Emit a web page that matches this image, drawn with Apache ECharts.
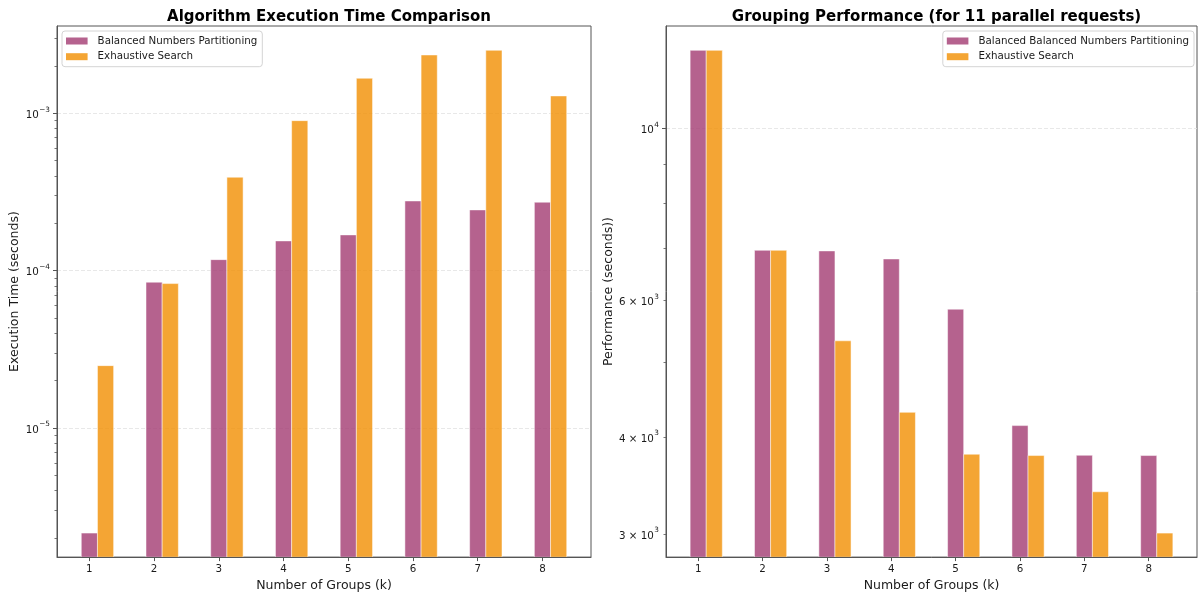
<!DOCTYPE html>
<html>
<head>
<meta charset="utf-8">
<script src="https://cdn.jsdelivr.net/npm/echarts@6/dist/echarts.min.js"></script>
<style>
  html, body { margin: 0; padding: 0; background: #ffffff; }
  #chart { width: 1200px; height: 597px; }
</style>
</head>
<body>
<div id="chart"></div>
<script>
// Number of groups k on both panels
const GROUPS = [1, 2, 3, 4, 5, 6, 7, 8];

// Left panel: execution time in seconds
const TIME_BNP = [2.15e-6, 8.44e-5, 1.174e-4, 1.544e-4, 1.686e-4, 2.77e-4, 2.43e-4, 2.72e-4];
const TIME_EXHAUSTIVE = [2.49e-5, 8.27e-5, 3.92e-4, 8.97e-4, 1.668e-3, 2.345e-3, 2.51e-3, 1.288e-3];

// Right panel: performance for 11 parallel requests
const PERF_BNP = [12600, 6961, 6949, 6785, 5845, 4138, 3789, 3786];
const PERF_EXHAUSTIVE = [12600, 6961, 5322, 4304, 3801, 3786, 3400, 3008];

// Tick values and labels of the log axes (mantissa, exponent)
const TIME_TICKS = [1e-5, 1e-4, 1e-3];
const TIME_TICK_LABELS = [['', '\u22125'], ['', '\u22124'], ['', '\u22123']];
const TIME_MINOR_TICKS = [2e-6, 3e-6, 4e-6, 5e-6, 6e-6, 7e-6, 8e-6, 9e-6,
  2e-5, 3e-5, 4e-5, 5e-5, 6e-5, 7e-5, 8e-5, 9e-5,
  2e-4, 3e-4, 4e-4, 5e-4, 6e-4, 7e-4, 8e-4, 9e-4,
  2e-3, 3e-3];
const PERF_MAJOR_TICKS = [10000];
const PERF_TICK_VALUES = [3000, 4000, 6000, 10000];
const PERF_TICK_LABELS = [['3', '3'], ['4', '3'], ['6', '3'], ['', '4']];
const PERF_MINOR_TICKS = [3000, 4000, 5000, 6000, 7000, 8000, 9000];

const NAME_BNP = 'Balanced Numbers Partitioning';
const NAME_BNP_RIGHT = 'Balanced Balanced Numbers Partitioning';
const NAME_EXH = 'Exhaustive Search';

const PURPLE = 'rgba(162, 59, 114, 0.8)';
const ORANGE = 'rgba(241, 143, 1, 0.8)';
const FONT = 'DejaVu Sans';
const TEXT = '#1a1a1a';
const SPINE = '#555555';
const BAR_W = 0.25;

function pairs(xs, ys) {
  return xs.map((x, i) => [x, ys[i]]);
}

// Formats a tick as "m × 10^e" (or "10^e") using rich text for the exponent
function labelFor(values, labels) {
  return function (v) {
    for (let i = 0; i < values.length; i++) {
      if (Math.abs(Math.log10(v) - Math.log10(values[i])) < 1e-6) {
        const m = labels[i][0];
        const e = labels[i][1];
        return (m ? '{b|' + m + ' \u00D7 10}' : '{b|10}') + '{s|' + e + '}';
      }
    }
    return '';
  };
}

const LABEL_RICH = {
  b: { fontFamily: FONT, fontSize: 10.3, color: TEXT, lineHeight: 14, verticalAlign: 'bottom' },
  s: { fontFamily: FONT, fontSize: 7.3, color: TEXT, lineHeight: 9, verticalAlign: 'top', padding: [0, 0, 0, 0.5] }
};

// Bars drawn from the bottom of the plot up to the value, shifted by `shift` bar widths
function barRenderer(shift) {
  return function (params, api) {
    const k = api.value(0);
    const v = api.value(1);
    const p0 = api.coord([k + (shift - 0.5) * BAR_W, v]);
    const p1 = api.coord([k + (shift + 0.5) * BAR_W, v]);
    const cs = params.coordSys;
    const bottom = cs.y + cs.height;
    return {
      type: 'rect',
      shape: { x: p0[0], y: p0[1], width: p1[0] - p0[0], height: bottom - p0[1] },
      style: {
        fill: api.visual('color'),
        stroke: 'rgba(255,255,255,0.7)',
        lineWidth: 0.7
      }
    };
  };
}

function xAxisFor(gridIndex) {
  return {
    gridIndex: gridIndex,
    type: 'value',
    position: 'bottom',
    min: 0.5,
    max: 8.75,
    name: 'Number of Groups (k)',
    nameLocation: 'middle',
    nameGap: 21,
    nameTextStyle: { fontFamily: FONT, fontSize: 12.5, color: TEXT },
    axisLine: { show: true, lineStyle: { color: SPINE, width: 1 } },
    axisTick: { show: true, customValues: GROUPS, length: 4, lineStyle: { color: SPINE, width: 1 } },
    axisLabel: { customValues: GROUPS, margin: 7, fontFamily: FONT, fontSize: 10.3, color: TEXT },
    splitLine: { show: false }
  };
}

function majorY(gridIndex, min, max, ticks, labelValues, labels, name, nameGap) {
  return {
    gridIndex: gridIndex,
    type: 'log',
    logBase: 10,
    position: 'left',
    min: min,
    max: max,
    name: name,
    nameLocation: 'middle',
    nameGap: nameGap,
    nameTextStyle: { fontFamily: FONT, fontSize: 12.5, color: TEXT },
    axisLine: { show: true, lineStyle: { color: SPINE, width: 1 } },
    axisTick: { show: true, customValues: ticks, length: 4, lineStyle: { color: SPINE, width: 1 } },
    axisLabel: {
      customValues: labelValues,
      formatter: labelFor(labelValues, labels),
      rich: LABEL_RICH,
      margin: 7,
      fontFamily: FONT,
      fontSize: 10.3,
      color: TEXT
    },
    splitLine: { show: true, lineStyle: { color: '#e2e2e2', width: 0.8, type: [4, 2] } },
    minorTick: { show: false },
    minorSplitLine: { show: false }
  };
}

function minorY(gridIndex, min, max, ticks) {
  return {
    gridIndex: gridIndex,
    type: 'log',
    logBase: 10,
    position: 'left',
    offset: 0,
    min: min,
    max: max,
    axisLine: { show: false },
    axisTick: { show: true, customValues: ticks, length: 2.5, lineStyle: { color: SPINE, width: 0.8 } },
    axisLabel: { show: false },
    splitLine: { show: false }
  };
}

const legendBase = {
  orient: 'vertical',
  icon: 'rect',
  itemWidth: 21.6,
  itemHeight: 7,
  itemGap: 3.7,
  padding: [4, 5, 4, 4],
  backgroundColor: 'rgba(255,255,255,0.8)',
  borderColor: '#d4d4d4',
  borderWidth: 1,
  borderRadius: 3,
  selectedMode: false,
  textStyle: { fontFamily: FONT, fontSize: 10.3, color: TEXT, lineHeight: 12, padding: [0, 0, 0, 5] }
};

const titleStyle = { fontFamily: FONT, fontSize: 15, fontWeight: 'bold', color: '#000', lineHeight: 18 };

const chart = echarts.init(document.getElementById('chart'), null, { renderer: 'canvas' });

chart.setOption({
  animation: false,
  backgroundColor: '#ffffff',
  title: [
    { text: 'Algorithm Execution Time Comparison', left: 324, top: 3, textAlign: 'center', textStyle: titleStyle },
    { text: 'Grouping Performance (for 11 parallel requests)', left: 931.5, top: 3, textAlign: 'center', textStyle: titleStyle }
  ],
  legend: [
    Object.assign({}, legendBase, { left: 62, top: 31, data: [NAME_BNP, NAME_EXH] }),
    Object.assign({}, legendBase, { right: 6, top: 31, data: [NAME_BNP_RIGHT, NAME_EXH] })
  ],
  grid: [
    { left: 57, top: 26, width: 534, height: 532, show: true, borderColor: SPINE, borderWidth: 1, backgroundColor: 'transparent' },
    { left: 666, top: 26, width: 531, height: 532, show: true, borderColor: SPINE, borderWidth: 1, backgroundColor: 'transparent' }
  ],
  xAxis: [xAxisFor(0), xAxisFor(1)],
  yAxis: [
    majorY(0, 1.512e-6, 3.583e-3, TIME_TICKS, TIME_TICKS, TIME_TICK_LABELS, 'Execution Time (seconds)', 34),
    minorY(0, 1.512e-6, 3.583e-3, TIME_MINOR_TICKS),
    majorY(1, 2801, 13545, PERF_MAJOR_TICKS, PERF_TICK_VALUES, PERF_TICK_LABELS, 'Performance (seconds))', 47),
    minorY(1, 2801, 13545, PERF_MINOR_TICKS)
  ],
  series: [
    {
      name: NAME_BNP, type: 'custom', xAxisIndex: 0, yAxisIndex: 0, clip: true,
      itemStyle: { color: PURPLE }, renderItem: barRenderer(0), data: pairs(GROUPS, TIME_BNP)
    },
    {
      name: NAME_EXH, type: 'custom', xAxisIndex: 0, yAxisIndex: 0, clip: true,
      itemStyle: { color: ORANGE }, renderItem: barRenderer(1), data: pairs(GROUPS, TIME_EXHAUSTIVE)
    },
    {
      name: NAME_BNP_RIGHT, type: 'custom', xAxisIndex: 1, yAxisIndex: 2, clip: true,
      itemStyle: { color: PURPLE }, renderItem: barRenderer(0), data: pairs(GROUPS, PERF_BNP)
    },
    {
      name: NAME_EXH, type: 'custom', xAxisIndex: 1, yAxisIndex: 2, clip: true,
      itemStyle: { color: ORANGE }, renderItem: barRenderer(1), data: pairs(GROUPS, PERF_EXHAUSTIVE)
    }
  ]
});
</script>
</body>
</html>
